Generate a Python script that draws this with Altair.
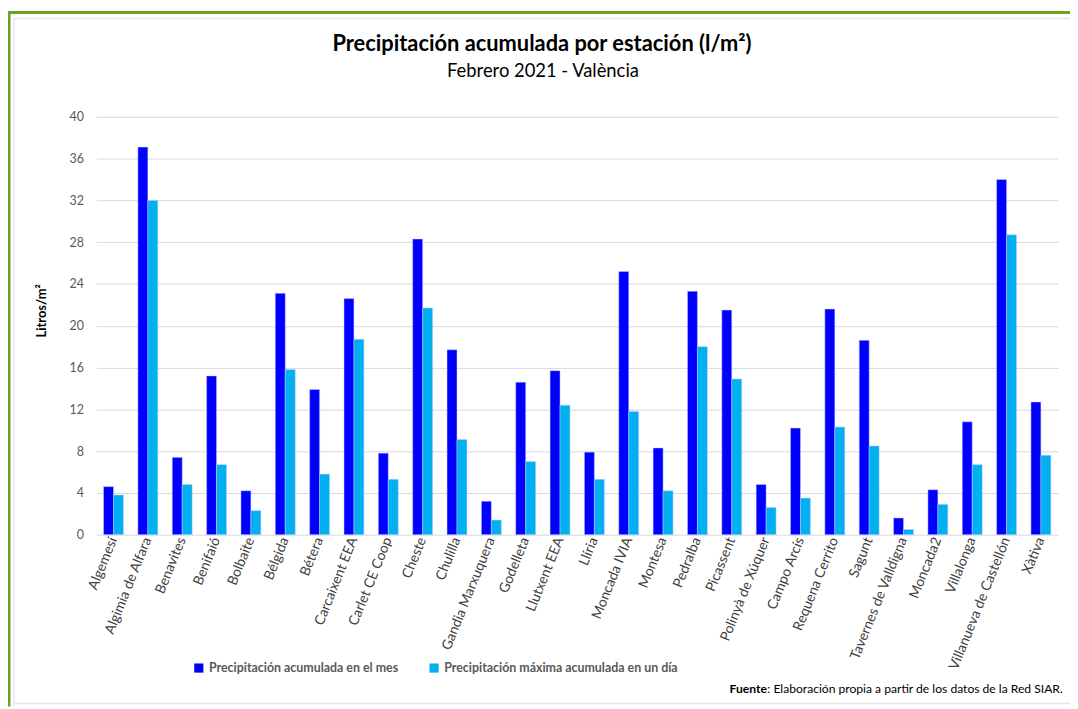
import altair as alt
import pandas as pd

stations = ["Algemesí", "Algimia de Alfara", "Benavites", "Benifaió", "Bolbaite", "Bélgida",
            "Bétera", "Carcaixent EEA", "Carlet CE Coop", "Cheste", "Chulilla",
            "Gandia Marxuquera", "Godelleta", "Llutxent EEA", "Llíria", "Moncada IVIA",
            "Montesa", "Pedralba", "Picassent", "Polinyà de Xúquer", "Campo Arcís",
            "Requena Cerrito", "Sagunt", "Tavernes de Valldigna", "Moncada2", "Villalonga",
            "Villanueva de Castellón", "Xàtiva"]
acum_mes = [4.6, 37.1, 7.4, 15.2, 4.2, 23.1, 13.9, 22.6, 7.8, 28.3, 17.7, 3.2, 14.6, 15.7,
            7.9, 25.2, 8.3, 23.3, 21.5, 4.8, 10.2, 21.6, 18.6, 1.6, 4.3, 10.8, 34.0, 12.7]
max_dia = [3.8, 32.0, 4.8, 6.7, 2.3, 15.8, 5.8, 18.7, 5.3, 21.7, 9.1, 1.4, 7.0, 12.4,
           5.3, 11.8, 4.2, 18.0, 14.9, 2.6, 3.5, 10.3, 8.5, 0.5, 2.9, 6.7, 28.7, 7.6]
series = ["Precipitación acumulada  en el mes", "Precipitación máxima acumulada en un día"]
colors = ["#0000FF", "#00B0F0"]
y_ticks = [0, 4, 8, 12, 16, 20, 24, 28, 32, 36, 40]
title_text = ["Precipitación acumulada por estación (l/m²)"]
subtitle_text = ["Febrero 2021 - València"]
source_bold = ["Fuente"]
source_rest = [": Elaboración propia a partir de los datos de la Red SIAR."]

rows = []
for s, a, m in zip(stations, acum_mes, max_dia):
    rows.append({"estacion": s, "serie": series[0], "valor": a})
    rows.append({"estacion": s, "serie": series[1], "valor": m})
df = pd.DataFrame(rows)

FONT = "Lato"
W, H = 969, 421
PL, PT = 89, 107

bars = alt.Chart(df).mark_bar(stroke="#c8c8ff", strokeWidth=0.5).encode(
    x=alt.X("estacion:N", sort=stations,
            scale=alt.Scale(paddingInner=0.42, paddingOuter=0.21),
            axis=alt.Axis(title=None, labelAngle=292, labelFontSize=14, labelColor="#404040",
                          labelFont=FONT, domain=False, ticks=False, labelPadding=3,
                          labelLimit=0)),
    xOffset=alt.XOffset("serie:N", sort=series, scale=alt.Scale(paddingInner=0)),
    y=alt.Y("valor:Q", scale=alt.Scale(domain=[0, 40], nice=False),
            axis=alt.Axis(values=y_ticks, title="Litros/m²", titleFont=FONT, titleFontSize=13,
                          titleFontWeight="bold", titleColor="#000000", titleAngle=270,
                          titleX=-55, titleY=195, titleAlign="center", titleBaseline="middle",
                          labelFont=FONT, labelFontSize=12.5, labelColor="#595959",
                          labelPadding=13, domain=False, ticks=False,
                          gridColor="#d9d9d9", gridWidth=1)),
    color=alt.Color("serie:N", sort=series,
                    scale=alt.Scale(domain=series, range=colors),
                    legend=alt.Legend(title=None, orient="none", legendX=97, legendY=549,
                                      direction="horizontal", symbolType="square",
                                      symbolSize=85, symbolStrokeWidth=0,
                                      labelFont=FONT, labelFontSize=12.5,
                                      labelFontWeight="bold", labelColor="#595959",
                                      columnPadding=26, labelLimit=0)),
)


def text_layer(values, **kw):
    d = pd.DataFrame({"t": values})
    x = kw.pop("x")
    y = kw.pop("y")
    return alt.Chart(d).mark_text(font=FONT, baseline="middle", color="#000000", **kw).encode(
        x=alt.value(x), y=alt.value(y), text="t:N")


title = text_layer(title_text, x=449, y=-73, fontSize=22, fontWeight="bold", align="center")
subtitle = text_layer(subtitle_text, x=450, y=-46, fontSize=18.5, align="center")
fuente = text_layer(source_bold, x=638, y=577, fontSize=12.2, fontWeight="bold", align="left")
fuente_rest = text_layer(source_rest, x=676, y=577, fontSize=12.2, align="left")

frame = pd.DataFrame({"k": [1]})
green_top = alt.Chart(frame).mark_rule(color="#6aa121", strokeWidth=3).encode(
    x=alt.value(-PL), x2=alt.value(W + 12), y=alt.value(-PT + 2))
green_left = alt.Chart(frame).mark_rule(color="#6aa121", strokeWidth=3).encode(
    x=alt.value(-PL + 1), y=alt.value(-PT + 1), y2=alt.value(H + 173))
gray_top = alt.Chart(frame).mark_rule(color="#e6e6e6", strokeWidth=1.5).encode(
    x=alt.value(-PL + 6), x2=alt.value(W + 12), y=alt.value(-PT + 8))
gray_left = alt.Chart(frame).mark_rule(color="#e6e6e6", strokeWidth=1.5).encode(
    x=alt.value(-PL + 6), y=alt.value(-PT + 8), y2=alt.value(H + 173))
gray_bottom = alt.Chart(frame).mark_rule(color="#e6e6e6", strokeWidth=1.5).encode(
    x=alt.value(-PL + 6), x2=alt.value(W + 12), y=alt.value(H + 170))

chart = alt.layer(green_top, green_left, gray_top, gray_left, gray_bottom,
                  bars, title, subtitle, fuente, fuente_rest).properties(
    width=W, height=H,
    autosize=alt.AutoSizeParams(type="none"),
    padding={"left": PL, "top": PT, "right": 12, "bottom": 173},
).configure(background="white").configure_view(stroke=None)

chart.save("out.html", embed_options={"renderer": "svg", "actions": False})
